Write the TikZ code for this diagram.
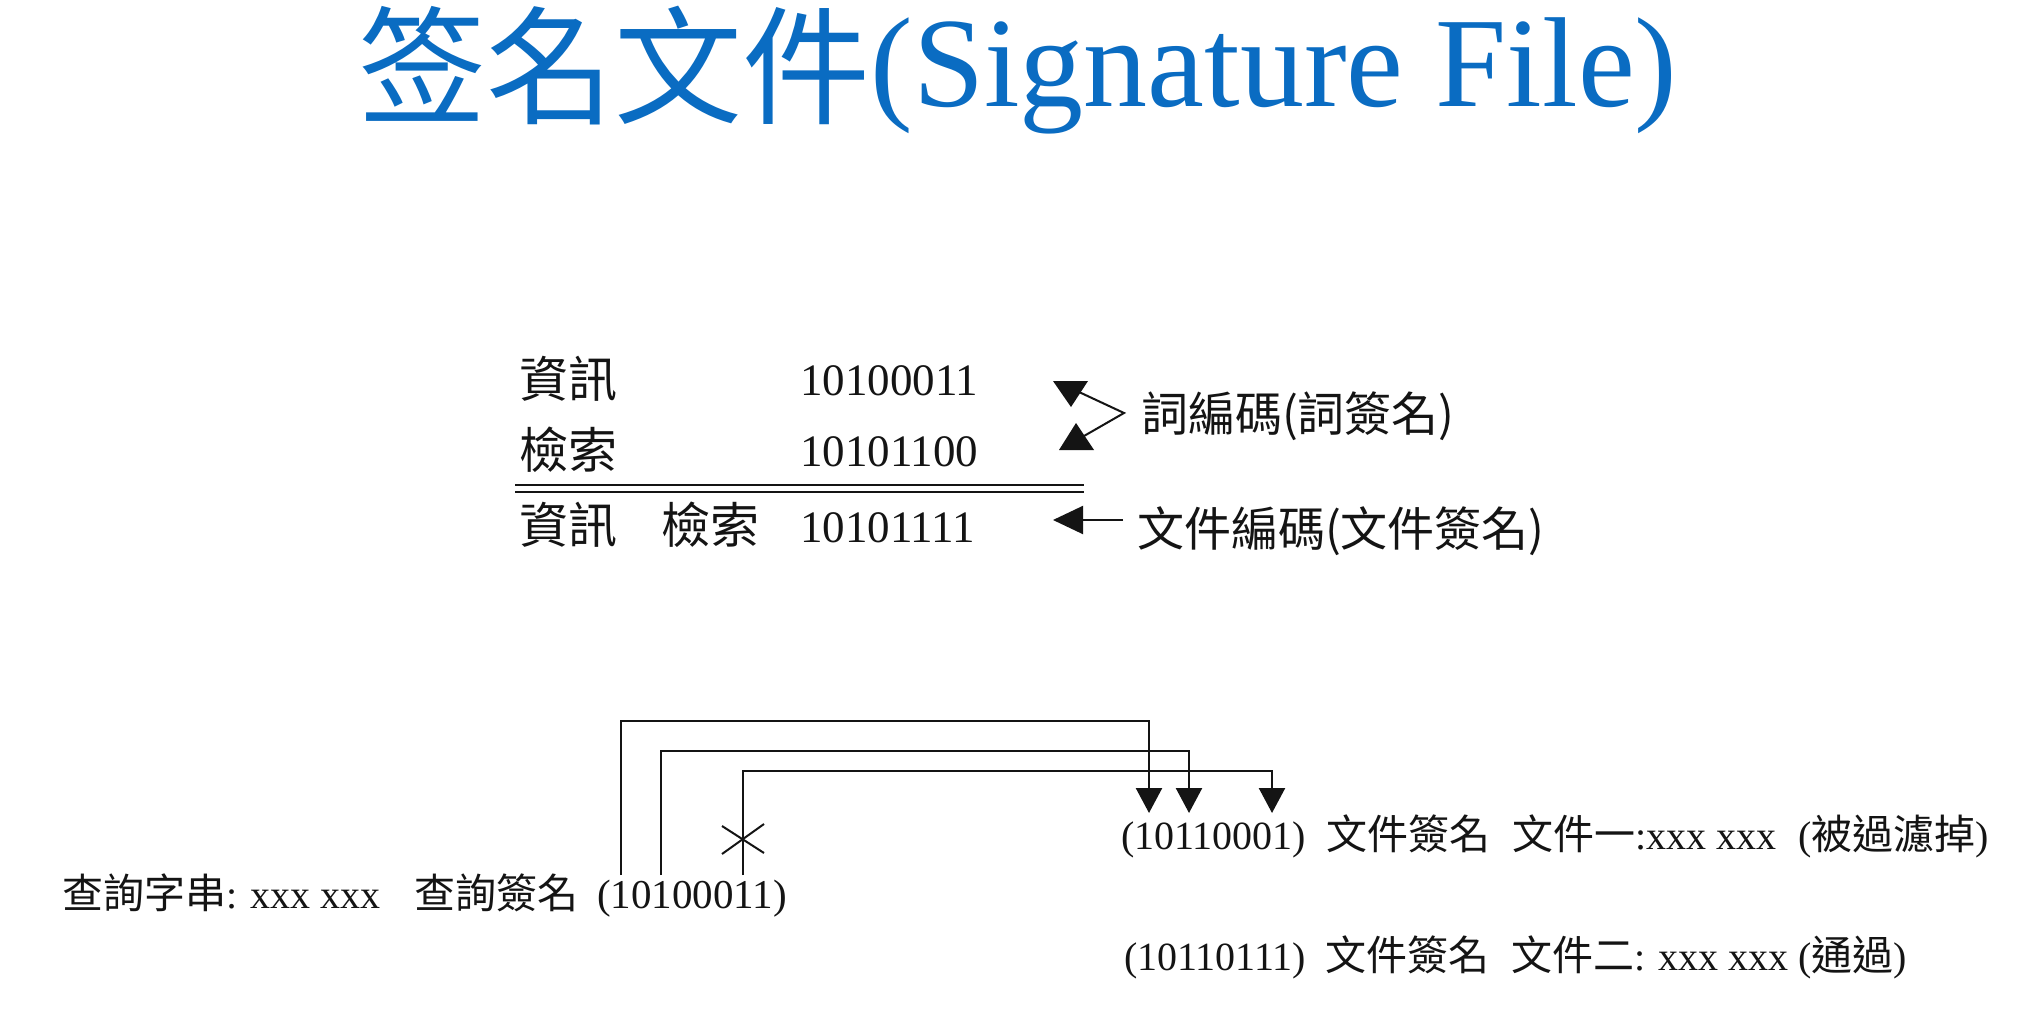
\documentclass[tikz,border=0pt]{standalone}
\usepackage{fontspec}
\setmainfont{Liberation Serif}
\newfontfamily\cjk{Noto Sans CJK TC}
\usetikzlibrary{arrows.meta,calc}
\definecolor{titleblue}{HTML}{0A6CC2}
\definecolor{ink}{HTML}{141414}
\begin{document}
\begin{tikzpicture}[x=1pt,y=-1pt,
  every node/.style={inner sep=0pt,outer sep=0pt,text=ink},
  titletext/.style={anchor=base,text=titleblue,font=\fontsize{128}{140}\selectfont},
  midcjk/.style={anchor=base west,font=\fontsize{49}{56}\selectfont\cjk},
  labelcjk/.style={anchor=base west,font=\fontsize{47}{54}\selectfont\cjk},
  middig/.style={anchor=base west,font=\fontsize{45}{52}\selectfont},
  lowtext/.style={anchor=base west,font=\fontsize{40}{46}\selectfont},
  conn/.style={line width=2.4pt,draw=ink},
  thinline/.style={line width=2pt,draw=ink},
  rule/.style={line width=2.8pt,draw=ink},
  bigtip/.style={-{Triangle[width=26pt,length=25pt]}},
  solidtri/.style={fill=ink,draw=none}
]
\fill[white] (0,0) rectangle (2021,1020);
\useasboundingbox (0,0) rectangle (2021,1020);

% title
\node[titletext] (title) at (1018,106) {\raisebox{-8pt}{\cjk 签名文件}(Signature File)};

% term signatures and the document signature
\node[midcjk] (t1) at (519,397) {資訊};
\node[middig] (c1) at (800,395) {10100011};
\node[midcjk] (t2) at (519,468) {檢索};
\node[middig] (c2) at (800,466) {10101100};
\node[midcjk] (t3a) at (519,543) {資訊};
\node[midcjk] (t3b) at (661,543) {檢索};
\node[middig] (c3) at (800,542) {10101111};

% double rule (superimposed codes)
\draw[rule] (515,485) -- (1084,485);
\draw[rule] (515,492) -- (1084,492);

% labels
\node[labelcjk] (lblterm) at (1141,431) {詞編碼(詞簽名)};
\node[labelcjk] (lbldoc) at (1137,546) {文件編碼(文件簽名)};

% pointer from the term label
\coordinate (apex) at (1124,413);
\coordinate (ua) at (1079,392);
\coordinate (la) at (1084,436);
\draw[thinline] (ua) -- (apex) -- (la);
\fill[solidtri] (1053,381) -- (1088,381) -- (1071,407) -- cycle;
\fill[solidtri] (1059,450) -- (1094,450) -- (1076,423) -- cycle;

% pointer from the document label
\coordinate (docfrom) at (1123,520);
\coordinate (docto) at (1053,520);
\draw[thinline,-{Triangle[width=28pt,length=30pt]}] (docfrom) -- (docto);

% query string and its signature
\node[lowtext] (qstr) at (62,908) {{\fontsize{41}{46}\selectfont\cjk 查詢字串}: xxx xxx};
\node[lowtext] (qsiglbl) at (414,908) {\fontsize{41}{46}\selectfont\cjk 查詢簽名};
\node[lowtext,font=\fontsize{41}{46}\selectfont] (qsig) at (597,908) {(10100011)};

% document signatures
\node[lowtext] (doc1) at (1121,849) {(10110001)\hspace{20pt}{\fontsize{41}{46}\selectfont\cjk 文件簽名}\hspace{22pt}{\fontsize{41}{46}\selectfont\cjk 文件一}:xxx xxx\hspace{22pt}({\fontsize{41}{46}\selectfont\cjk 被過濾掉})};
\node[lowtext] (doc2) at (1124,970) {(10110111)\hspace{19pt}{\fontsize{41}{46}\selectfont\cjk 文件簽名}\hspace{22pt}{\fontsize{41}{46}\selectfont\cjk 文件二}: xxx xxx ({\fontsize{41}{46}\selectfont\cjk 通過})};

% bit-position checks from query signature to document signature
\coordinate (q1) at (621,875);
\coordinate (q2) at (661,875);
\coordinate (q3) at (743,875);
\coordinate (h1) at (621,721);
\coordinate (h2) at (661,751);
\coordinate (h3) at (743,771);
\coordinate (d1) at (1149,813);
\coordinate (d2) at (1189,813);
\coordinate (d3) at (1272,813);
\draw[conn,bigtip] (q1) -- (h1) -| (d1);
\draw[conn,bigtip] (q2) -- (h2) -| (d2);
\draw[conn,bigtip] (q3) -- (h3) -| (d3);

% failed bit marked with a cross
\coordinate (cross) at (743,839);
\draw[thinline] ($(cross)+(-21,-13)$) -- ($(cross)+(21,14)$);
\draw[thinline] ($(cross)+(-21,15)$) -- ($(cross)+(21,-15)$);
\end{tikzpicture}
\end{document}
